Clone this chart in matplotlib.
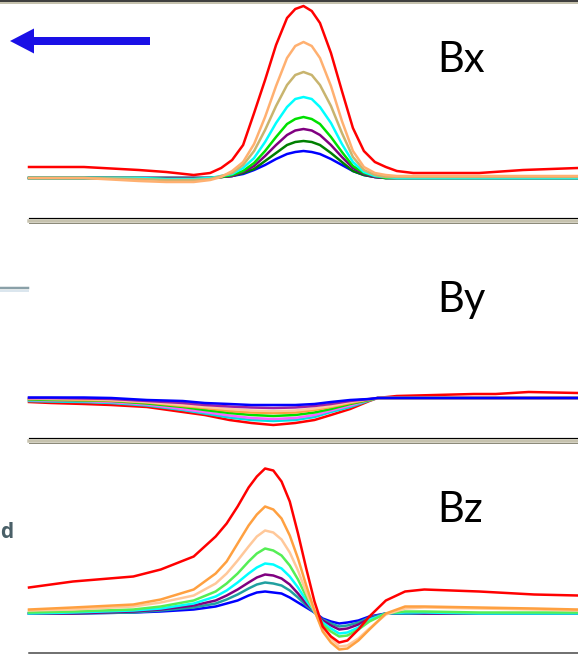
import matplotlib
matplotlib.use("Agg")
import matplotlib.pyplot as plt
from matplotlib.lines import Line2D
from matplotlib.patches import FancyArrow

# position along the track (0..100), read separately for each panel
bx_pos = [0, 10, 20, 25, 30, 33, 35, 37, 39, 41, 43, 45, 47, 48.5, 50, 51.5, 53, 55, 57, 59, 61, 63, 65, 67,
          70, 75, 82, 90, 100]
by_pos = [0, 4, 10, 15, 21.5, 28, 32, 36.5, 40.5, 44.5, 48.5, 52, 55, 58.5, 62, 63.5, 67, 74, 81, 85, 91, 100]
bz_pos = [0, 8, 19, 24, 30, 34, 36, 38, 40, 41.5, 43, 44.5, 46, 47.5, 49, 50.5, 52, 53.5, 55, 56.5, 58, 60, 62,
          65, 68.5, 72, 82, 92, 100]

# Bx panel
bx_colors = ["#0000ff", "#008000", "#800080", "#00e000", "#00ffff", "#c8b46e", "#ffb070", "#ff0000"]
bx_blue = [0, 0, 0, 0, 0, 0, 1, 2, 4, 8, 13, 19, 24, 26, 27, 26, 24, 19, 13, 7, 3, 1, 0, 0, 0, 0, 0, 0, 0]
bx_dkgreen = [0, 0, 0, 0, 0, 0, 1, 2, 5, 9, 17, 25, 33, 36, 37, 36, 33, 25, 16, 7, 3, 1, 0, 0, 0, 0, 0, 0, 0]
bx_purple = [0, 0, 0, 0, 0, 0, 1, 2, 6, 12, 22, 33, 43, 47.5, 49, 47.5, 43, 33, 21, 10, 4, 1, 0, 0, 0, 0, 0, 0, 0]
bx_green = [0, 0, 0, -1, -1, 0, 1, 3, 7, 15, 27, 41, 54, 59, 61, 59, 54, 41, 26, 12, 5, 2, 0, 0, 0, 0, 0, 0, 0]
bx_cyan = [0, 0, 0, -1, -1, 0, 2, 4, 10, 20, 36, 55, 71, 79, 81, 79, 71, 55, 34, 16, 6, 2, 1, 0, 0, 0, 0, 0, 0]
bx_khaki = [0, 0, -1, -2, -2, -1, 2, 5, 13, 27, 48, 72, 93, 103, 106, 103, 93, 72, 45, 21, 8, 3, 1, 1,
            1, 1, 1, 1, 1]
bx_orange = [0, 0, -3, -4, -4, -2, 1, 7, 16, 34, 61, 92, 120, 132, 136, 132, 120, 92, 57, 27, 11, 5, 3, 2,
             2, 2, 2, 2, 2]
bx_red = [11, 11, 8, 6, 3, 5, 10, 18, 33, 65, 98, 133, 160, 169, 172, 167, 155, 125, 87, 50, 27, 16, 11, 7,
          5, 5, 5, 8, 10]

# By panel
by_colors = ["#0000ff", "#a020a0", "#ffc8a0", "#ffa040", "#00e000", "#ff60ff", "#00e0e0", "#ff0000"]
by_blue = [0.5, 0.5, 0.5, 0, -2, -3, -5, -6, -7, -7, -7, -6, -4, -2, -1, 0, 0, 0, 0, 0, 0, 0]
by_purple = [0, 0, -0.5, -1, -3, -5, -7, -8.5, -9.5, -10, -9.5, -8, -6, -3, -1, 0, 0, 0, 0, 0, 0, 0]
by_peach = [-0.5, -1, -1, -2, -4, -7, -9, -11, -12.5, -13, -12.5, -10.5, -8, -4, -1, 0, 0, 0, 0, 0, 0, 0]
by_orange = [-1, -1, -2, -2.5, -4.5, -8, -10, -13, -14.5, -15, -14.5, -12, -9, -5, -1.5, 0, 0, 0, 0, 0, 0, 0]
by_green = [-1.5, -2, -2.5, -3, -5.5, -9, -12, -15, -17, -18, -17, -14.5, -11, -6, -2, 0, 0, 0, 0, 0, 0, 0]
by_magenta = [-2, -2.5, -3, -4, -6.5, -11, -14, -17.5, -20, -21, -20, -17, -12.5, -7.5, -2, 0, 0, 0, 0, 0, 0, 0]
by_cyan = [-3, -3.5, -4, -5, -7.5, -12, -15.5, -19.5, -22, -23, -22, -19, -14, -9, -2.5, 0, 0, 0, 0, 0, 0, 0]
by_red = [-4, -5, -6, -7, -9, -14, -17, -22, -25, -27, -25, -22, -17, -11, -3, 0, 2, 3, 4, 4, 6, 5]

# Bz panel
bz_colors = ["#0000ff", "#20a0a0", "#800080", "#00ffff", "#55ee55", "#ffc89a", "#ffa040", "#ff0000"]
bz_blue = [0, 0, 1, 2, 4, 7, 10, 13, 18, 21, 22, 21, 20, 16, 11, 6, 1, -5, -8, -10, -9, -7, -3, 0, 0, 0, 0, 0, 0]
bz_teal = [0, 0, 1, 3, 6, 10, 14, 19, 25, 29, 31, 30, 28, 23, 16, 8, 1, -6, -10, -13, -12, -9, -4, 0, 0, 0, 0, 0, 0]
bz_purple = [0, 0, 2, 4, 8, 13, 18, 24, 31, 36, 39, 38, 35, 29, 20, 10, 2, -7, -12, -16, -15, -11, -5, 0, 1,
             0, 0, 0, 0]
bz_cyan = [0, 1, 3, 5, 10, 17, 23, 31, 40, 46, 50, 49, 45, 37, 26, 13, 2, -9, -15, -20, -19, -14, -6, 0, 1,
           1, 0, 0, 0]
bz_green = [1, 2, 4, 7, 13, 22, 30, 40, 52, 60, 65, 63, 58, 48, 34, 17, 2, -11, -18, -23, -22, -16, -8, 0, 2,
            2, 1, 1, 1]
bz_peach = [3, 4, 7, 11, 18, 30, 40, 53, 67, 77, 83, 81, 74, 61, 43, 21, 2, -15, -25, -33, -32, -25, -15, -1, 5,
            6, 5, 4, 3]
bz_orange = [4, 6, 9, 14, 24, 40, 52, 70, 88, 99, 107, 104, 95, 78, 55, 28, 3, -18, -29, -36, -35, -27, -16, 0, 7,
             7, 6, 5, 4]
bz_red = [26, 32, 37, 44, 57, 77, 90, 107, 126, 137, 145, 143, 132, 112, 80, 45, 12, -13, -23, -29, -27, -16, -3,
          13, 22, 24, 22, 19, 18]

W, H = 578, 654

fig = plt.figure(figsize=(W / 100, H / 100), dpi=100)
fig.patch.set_facecolor("white")


def panel(top, bottom, ylim):
    ax = fig.add_axes([29 / W, 1 - bottom / H, 1 - 29 / W, (bottom - top) / H])
    ax.set_xlim(0, 100)
    ax.set_ylim(*ylim)
    ax.axis("off")
    return ax


ax1 = panel(3, 217, (-39, 175))
for y, c in zip([bx_blue, bx_dkgreen, bx_purple, bx_green, bx_cyan, bx_khaki, bx_orange, bx_red], bx_colors):
    ax1.plot(bx_pos, y, color=c, lw=1.8, clip_on=False, solid_joinstyle="round")

ax2 = panel(224, 438, (-40, 174))
for y, c in zip([by_red, by_cyan, by_magenta, by_green, by_orange, by_peach, by_purple, by_blue], by_colors[::-1]):
    ax2.plot(by_pos, y, color=c, lw=1.8, clip_on=False, solid_joinstyle="round")

ax3 = panel(444, 651, (-37.5, 169.5))
for y, c in zip([bz_blue, bz_teal, bz_purple, bz_cyan, bz_green, bz_peach, bz_orange, bz_red], bz_colors):
    ax3.plot(bz_pos, y, color=c, lw=1.8, clip_on=False, solid_joinstyle="round")

# overlay in pixel units for the frame lines, labels and the arrow
ov = fig.add_axes([0, 0, 1, 1], zorder=5)
ov.set_xlim(0, W)
ov.set_ylim(H, 0)
ov.axis("off")

px = 72 / 100


def double_rule(y, x0):
    ov.add_line(Line2D([x0, W], [y, y], color="black", lw=1.2 * px))
    ov.add_line(Line2D([x0, W], [y + 3.5, y + 3.5], color="#c6c2ae", lw=3.5 * px))
    ov.add_line(Line2D([x0, W], [y + 5.5, y + 5.5], color="#8c8a7a", lw=1 * px))


ov.add_line(Line2D([0, W], [0.5, 0.5], color="black", lw=1.5 * px))
ov.add_line(Line2D([0, W], [2.5, 2.5], color="#c6c2ae", lw=2 * px))
double_rule(217.5, 29)
double_rule(437.5, 29)
ov.add_line(Line2D([29, W], [652.5, 652.5], color="#444444", lw=1.5 * px))

ov.add_patch(FancyArrow(150, 41, -140, 0, width=8, head_width=25, head_length=24,
                        length_includes_head=True, color="#1a10e6", lw=0))

ov.add_line(Line2D([0, 28], [288, 288], color="#8aa0a8", lw=2.5 * px))
ov.add_line(Line2D([0, 28], [291, 291], color="#dbe6ee", lw=2 * px))
ov.text(0.5, 538, "d", ha="left", va="baseline", fontsize=15, color="#4a6068",
        family="Open Sans", weight="bold")

for label, yb in [("Bx", 72), ("By", 312), ("Bz", 522)]:
    ov.text(437, yb, label, ha="left", va="baseline", fontsize=30, family="Lato",
            color="black")

fig.savefig("out.png", dpi=100)
